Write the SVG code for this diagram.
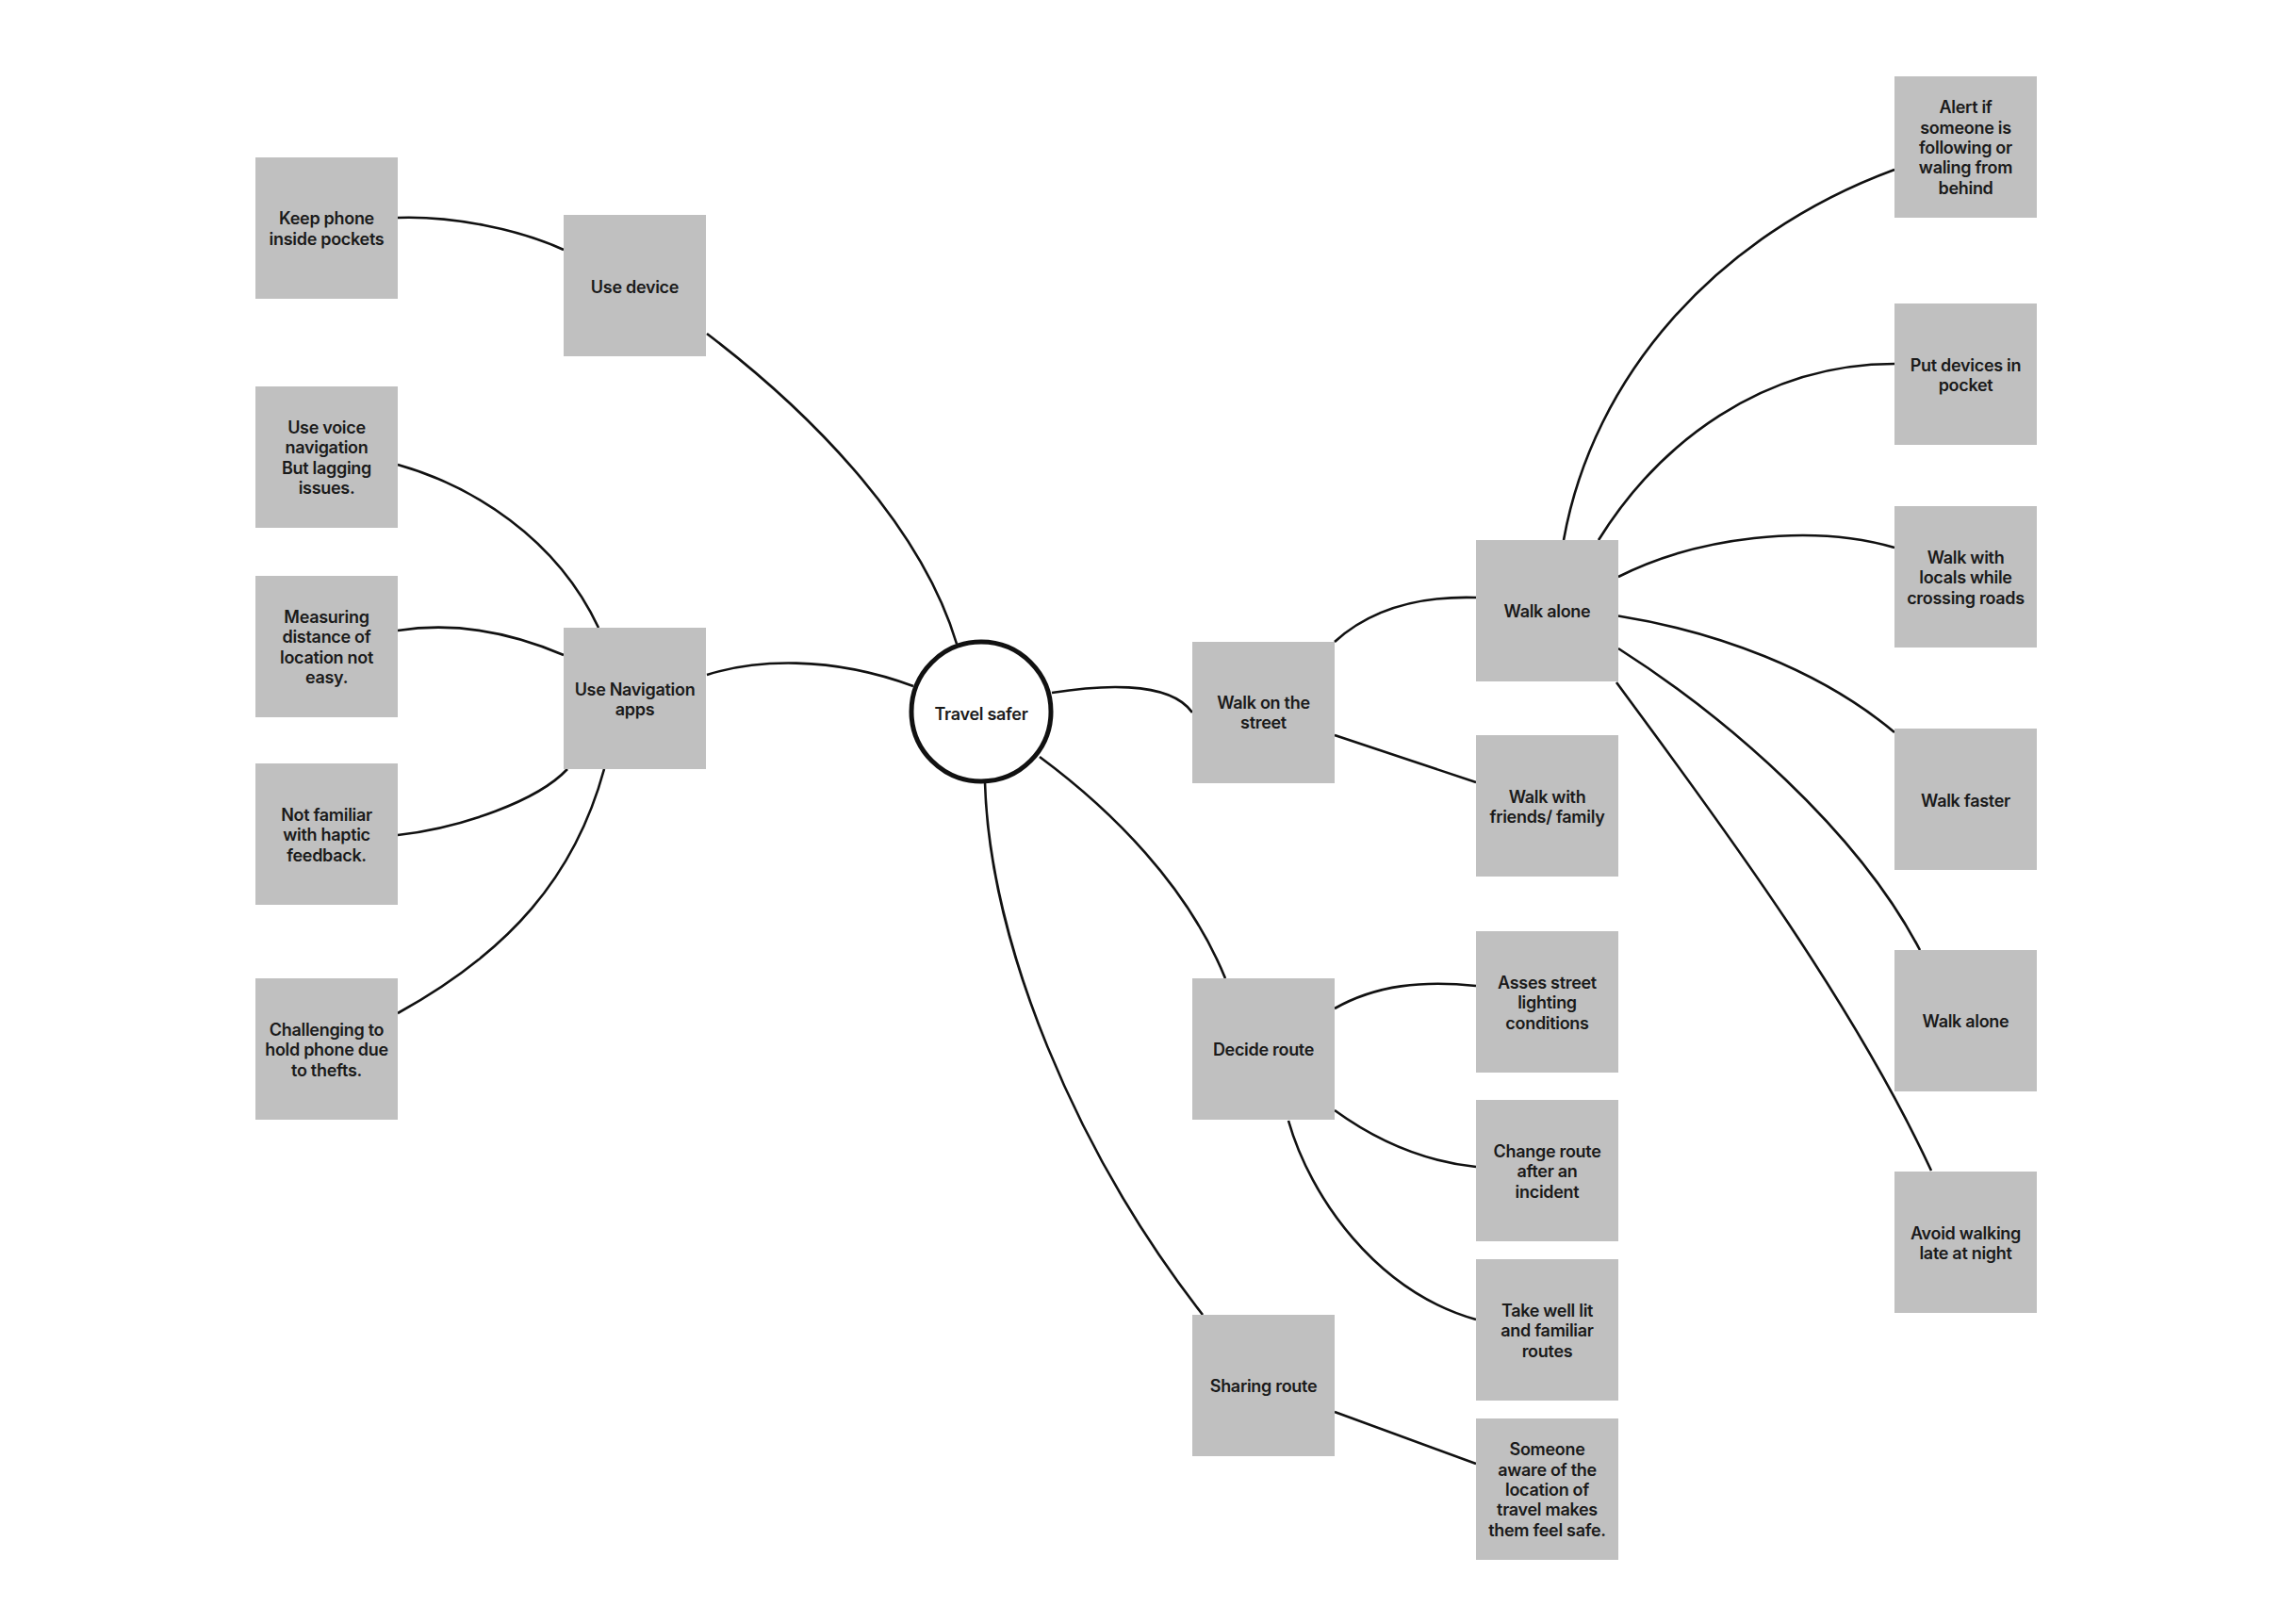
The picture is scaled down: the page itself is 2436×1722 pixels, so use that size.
<svg xmlns="http://www.w3.org/2000/svg" width="2436" height="1722" viewBox="0 0 2436 1722">
<style>
.box{fill:#c0c0c0}
.t{font-family:Inter,"Noto Sans","Liberation Sans",sans-serif;font-size:18px;font-weight:600;letter-spacing:-0.3px;fill:#1a1a1a;text-anchor:middle;dominant-baseline:central}
.c{fill:none;stroke:#111;stroke-width:2.6}
</style>
<rect width="2436" height="1722" fill="#fff"/>
<g id="connectors">
<path class="c" d="M422,231 C480,229 550,243 598,265"/>
<path class="c" d="M750,354 C850,430 975,550 1015,683"/>
<path class="c" d="M422,493 C500,515 590,570 635,666"/>
<path class="c" d="M422,669 C480,660 540,670 598,695"/>
<path class="c" d="M750,716 C800,700 880,695 969,728"/>
<path class="c" d="M1116,735 C1160,728 1240,720 1265,756"/>
<path class="c" d="M422,886 C490,878 570,850 602,816"/>
<path class="c" d="M422,1075 C540,1010 610,930 641,816"/>
<path class="c" d="M1045,830 C1050,1000 1140,1220 1276,1395"/>
<path class="c" d="M1103,803 C1180,860 1260,940 1300,1038"/>
<path class="c" d="M1416,681 C1450,650 1500,632 1566,634"/>
<path class="c" d="M1416,780 L1566,830"/>
<path class="c" d="M1659,573 C1690,400 1820,250 2010,180"/>
<path class="c" d="M1696,573 C1760,470 1870,386 2010,386"/>
<path class="c" d="M1717,612 C1800,570 1920,555 2010,581"/>
<path class="c" d="M1717,653.5 C1820,670 1930,710 2010,777"/>
<path class="c" d="M1717,688 C1830,760 1970,880 2037,1008"/>
<path class="c" d="M1715,724 C1800,840 1960,1050 2049,1242"/>
<path class="c" d="M1416,1070 C1460,1045 1510,1040 1566,1046"/>
<path class="c" d="M1416,1178 C1460,1210 1510,1232 1566,1238"/>
<path class="c" d="M1367,1189 C1390,1270 1460,1370 1566,1400"/>
<path class="c" d="M1416,1498 L1566,1553"/>
</g>
<g id="n-travel-safer"><circle cx="1041" cy="755" r="74" fill="#fff" stroke="#111" stroke-width="5"/><text class="t" x="1041" y="757">Travel safer</text></g>
<g id="n-keep-phone"><rect class="box" x="271" y="167" width="151" height="150"/><text class="t" x="346.5" y="231.5">Keep phone<tspan x="346.5" dy="21.3">inside pockets</tspan></text></g>
<g id="n-use-device"><rect class="box" x="598" y="228" width="151" height="150"/><text class="t" x="673.5" y="304">Use device</text></g>
<g id="n-use-voice"><rect class="box" x="271" y="410" width="151" height="150"/><text class="t" x="346.5" y="453">Use voice<tspan x="346.5" dy="21.3">navigation</tspan><tspan x="346.5" dy="21.3">But lagging</tspan><tspan x="346.5" dy="21.3">issues.</tspan></text></g>
<g id="n-measuring"><rect class="box" x="271" y="611" width="151" height="150"/><text class="t" x="346.5" y="654">Measuring<tspan x="346.5" dy="21.3">distance of</tspan><tspan x="346.5" dy="21.3">location not</tspan><tspan x="346.5" dy="21.3">easy.</tspan></text></g>
<g id="n-not-familiar"><rect class="box" x="271" y="810" width="151" height="150"/><text class="t" x="346.5" y="864">Not familiar<tspan x="346.5" dy="21.3">with haptic</tspan><tspan x="346.5" dy="21.3">feedback.</tspan></text></g>
<g id="n-challenging"><rect class="box" x="271" y="1038" width="151" height="150"/><text class="t" x="346.5" y="1092">Challenging to<tspan x="346.5" dy="21.3">hold phone due</tspan><tspan x="346.5" dy="21.3">to thefts.</tspan></text></g>
<g id="n-use-navigation"><rect class="box" x="598" y="666" width="151" height="150"/><text class="t" x="673.5" y="731">Use Navigation<tspan x="673.5" dy="21.3">apps</tspan></text></g>
<g id="n-walk-street"><rect class="box" x="1265" y="681" width="151" height="150"/><text class="t" x="1340.5" y="745">Walk on the<tspan x="1340.5" dy="21.3">street</tspan></text></g>
<g id="n-decide-route"><rect class="box" x="1265" y="1038" width="151" height="150"/><text class="t" x="1340.5" y="1113">Decide route</text></g>
<g id="n-sharing-route"><rect class="box" x="1265" y="1395" width="151" height="150"/><text class="t" x="1340.5" y="1470">Sharing route</text></g>
<g id="n-walk-alone"><rect class="box" x="1566" y="573" width="151" height="150"/><text class="t" x="1641.5" y="648">Walk alone</text></g>
<g id="n-walk-friends"><rect class="box" x="1566" y="780" width="151" height="150"/><text class="t" x="1641.5" y="845">Walk with<tspan x="1641.5" dy="21.3">friends/ family</tspan></text></g>
<g id="n-asses"><rect class="box" x="1566" y="988" width="151" height="150"/><text class="t" x="1641.5" y="1042">Asses street<tspan x="1641.5" dy="21.3">lighting</tspan><tspan x="1641.5" dy="21.3">conditions</tspan></text></g>
<g id="n-change"><rect class="box" x="1566" y="1167" width="151" height="150"/><text class="t" x="1641.5" y="1221">Change route<tspan x="1641.5" dy="21.3">after an</tspan><tspan x="1641.5" dy="21.3">incident</tspan></text></g>
<g id="n-take"><rect class="box" x="1566" y="1336" width="151" height="150"/><text class="t" x="1641.5" y="1390">Take well lit<tspan x="1641.5" dy="21.3">and familiar</tspan><tspan x="1641.5" dy="21.3">routes</tspan></text></g>
<g id="n-someone"><rect class="box" x="1566" y="1505" width="151" height="150"/><text class="t" x="1641.5" y="1537.5">Someone<tspan x="1641.5" dy="21.3">aware of the</tspan><tspan x="1641.5" dy="21.3">location of</tspan><tspan x="1641.5" dy="21.3">travel makes</tspan><tspan x="1641.5" dy="21.3">them feel safe.</tspan></text></g>
<g id="n-alert"><rect class="box" x="2010" y="81" width="151" height="150"/><text class="t" x="2085.5" y="113.5">Alert if<tspan x="2085.5" dy="21.3">someone is</tspan><tspan x="2085.5" dy="21.3">following or</tspan><tspan x="2085.5" dy="21.3">waling from</tspan><tspan x="2085.5" dy="21.3">behind</tspan></text></g>
<g id="n-put-devices"><rect class="box" x="2010" y="322" width="151" height="150"/><text class="t" x="2085.5" y="387">Put devices in<tspan x="2085.5" dy="21.3">pocket</tspan></text></g>
<g id="n-walk-locals"><rect class="box" x="2010" y="537" width="151" height="150"/><text class="t" x="2085.5" y="591">Walk with<tspan x="2085.5" dy="21.3">locals while</tspan><tspan x="2085.5" dy="21.3">crossing roads</tspan></text></g>
<g id="n-walk-faster"><rect class="box" x="2010" y="773" width="151" height="150"/><text class="t" x="2085.5" y="849">Walk faster</text></g>
<g id="n-walk-alone-2"><rect class="box" x="2010" y="1008" width="151" height="150"/><text class="t" x="2085.5" y="1083">Walk alone</text></g>
<g id="n-avoid"><rect class="box" x="2010" y="1243" width="151" height="150"/><text class="t" x="2085.5" y="1308">Avoid walking<tspan x="2085.5" dy="21.3">late at night</tspan></text></g>
</svg>
